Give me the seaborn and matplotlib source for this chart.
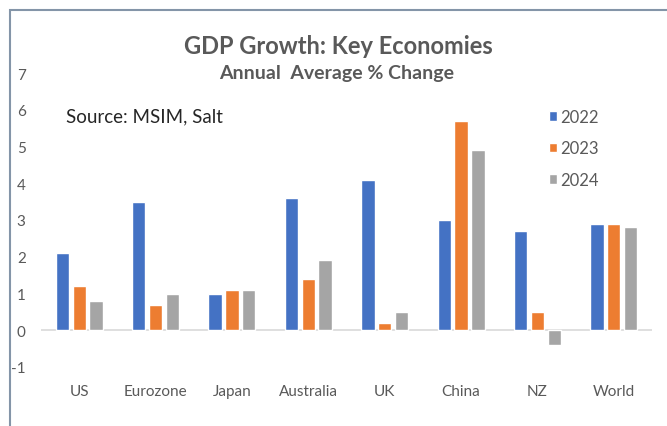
import matplotlib
matplotlib.use("Agg")
import matplotlib.pyplot as plt
from matplotlib.patches import Rectangle
import pandas as pd
import seaborn as sns

# Annual average % change in GDP
economies = ["US", "Eurozone", "Japan", "Australia", "UK", "China", "NZ", "World"]
years = ["2022", "2023", "2024"]
growth_2022 = [2.1, 3.5, 1.0, 3.6, 4.1, 3.0, 2.7, 2.9]
growth_2023 = [1.2, 0.7, 1.1, 1.4, 0.2, 5.7, 0.5, 2.9]
growth_2024 = [0.8, 1.0, 1.1, 1.9, 0.5, 4.9, -0.4, 2.8]
y_ticks = [-1, 0, 1, 2, 3, 4, 5, 6, 7]
palette = ["#4472C4", "#ED7D31", "#A5A5A5"]

df = pd.DataFrame({
    "Economy": economies * 3,
    "Year": [y for y in years for _ in economies],
    "Growth": growth_2022 + growth_2023 + growth_2024,
})

sns.set_theme(style="white")
plt.rcParams["font.family"] = ["Lato", "DejaVu Sans"]

W, H = 667, 427
fig = plt.figure(figsize=(W / 100, H / 100), dpi=100)
ax = fig.add_axes([41 / W, 1 - 368 / H, 611 / W, 294 / H])

sns.barplot(data=df, x="Economy", y="Growth", hue="Year", hue_order=years,
            order=economies, palette=palette, saturation=1, width=0.66,
            gap=0.21, errorbar=None, ax=ax)

ax.set_xlim(-0.5, len(economies) - 0.5)
ax.set_ylim(y_ticks[0], y_ticks[-1])
ax.set_yticks(y_ticks)
ax.set_yticklabels([str(t) for t in y_ticks])
ax.set_xlabel("")
ax.set_ylabel("")
for s in ax.spines.values():
    s.set_visible(False)
ax.axhline(0, color="#D9D9D9", lw=1.2, zorder=0.5)
ax.tick_params(axis="y", length=0, pad=11, labelsize=11, labelcolor="#595959")
ax.tick_params(axis="x", length=0, pad=12, labelsize=11, labelcolor="#595959")

handles, labels = ax.get_legend_handles_labels()
ax.legend(handles, labels, loc="upper left",
          bbox_to_anchor=(549 / W, 1 - 110 / H), bbox_transform=fig.transFigure,
          frameon=False, fontsize=12, labelcolor="#595959",
          handlelength=0.5, handleheight=0.5, handletextpad=0.15,
          labelspacing=0.92, borderpad=0, borderaxespad=0)

fig.text(338 / W, 1 - 46 / H, "GDP Growth: Key Economies", ha="center",
         va="center", fontsize=17, fontweight="bold", color="#595959")
fig.text(337 / W, 1 - 74 / H, "Annual  Average % Change", ha="center",
         va="center", fontsize=14, fontweight="bold", color="#595959")
fig.text(66 / W, 1 - 117 / H, "Source: MSIM, Salt", ha="left", va="center",
         fontsize=13.5, color="#262626")

# Frame around the chart
fig.patches.append(Rectangle((9.5 / W, -0.1), 1.2, 1.1 - 11 / H,
                             transform=fig.transFigure, fill=False,
                             edgecolor="#8495A8", lw=1.5))

fig.savefig("out.png", dpi=100)
